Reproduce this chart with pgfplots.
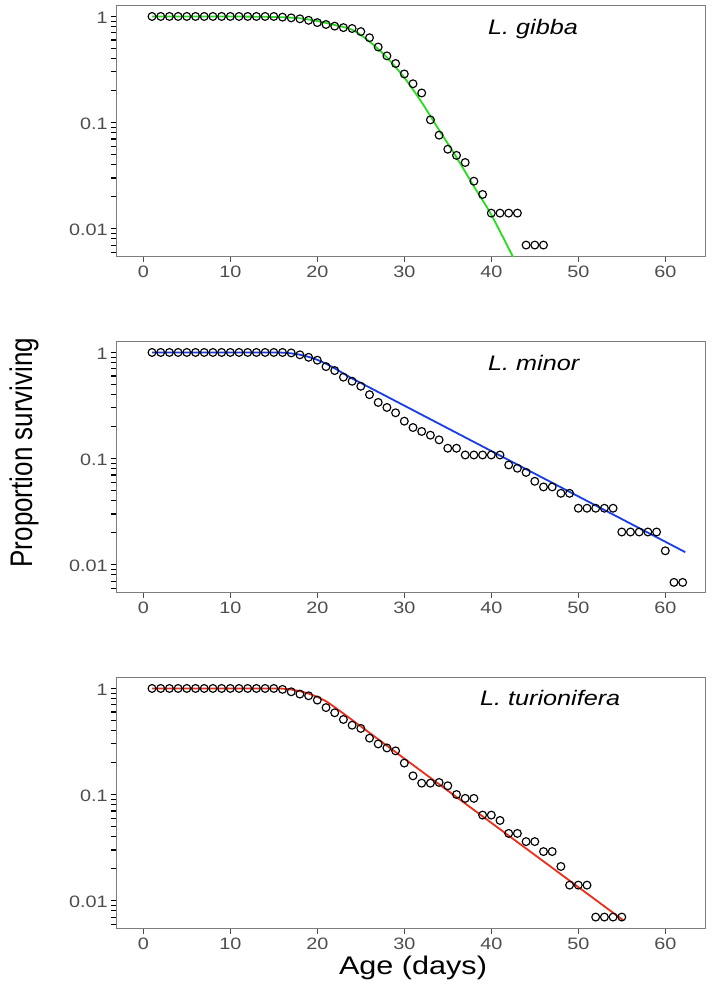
\documentclass[border=0pt]{standalone}
\usepackage{pgfplots}
\pgfplotsset{compat=1.18}
\usepackage{fontspec}
\setmainfont{Liberation Sans}
\usepackage{graphicx}
\definecolor{tickgray}{RGB}{77,77,77}
\definecolor{boxgray}{RGB}{125,125,125}
\definecolor{lgreen}{RGB}{40,220,30}
\definecolor{lblue}{RGB}{25,60,230}
\definecolor{lred}{RGB}{235,45,25}
\newcommand{\sx}[1]{\scalebox{1.2}[1]{#1}}
\pgfplotsset{
  scale only axis, width=588.6pt, height=251.5pt,
  xmin=-3.06, xmax=64.6,
  ymin=0.00546, ymax=1.282,
  axis line style={boxgray, line width=0.9pt},
  xtick={0,10,20,30,40,50,60},
  xticklabels={\sx{0},\sx{10},\sx{20},\sx{30},\sx{40},\sx{50},\sx{60}},
  ytick={0.01,0.1,1},
  yticklabels={\sx{0.01},\sx{0.1},\sx{1}},
  minor ytick={0.006,0.007,0.008,0.009,0.02,0.03,0.04,0.05,0.06,0.07,0.08,0.09,0.2,0.3,0.4,0.5,0.6,0.7,0.8,0.9},
  tick align=outside, tick pos=left,
  major tick length=5.5pt, minor tick length=5.5pt,
  x tick style={tickgray, line width=1pt},
  y tick style={black, line width=1.1pt},
  ticklabel style={font=\fontsize{16.5}{19}\selectfont, text=tickgray},
  yticklabel style={yshift=-1.5pt},
}
\pgfplotstableread{
d s
1 1
2 1
3 1
4 1
5 1
6 1
7 1
8 1
9 1
10 1
11 1
12 1
13 1
14 1
15 1
16 0.985
17 0.97
18 0.95
19 0.92
20 0.875
21 0.84
22 0.81
23 0.785
24 0.77
25 0.72
26 0.63
27 0.515
28 0.425
29 0.36
30 0.287
31 0.232
32 0.19
33 0.106
34 0.076
35 0.056
36 0.049
37 0.042
38 0.028
39 0.021
40 0.014
41 0.014
42 0.014
43 0.014
44 0.007
45 0.007
46 0.007
}\gibbapts
\pgfplotstableread{
d s
1 1
5 1
10 0.999
14 0.992
16 0.982
18 0.96
20 0.905
22 0.83
24 0.75
26 0.58
28 0.41
30 0.265
32 0.155
34 0.085
36 0.047
38 0.025
40 0.0135
42.6 0.0052
}\gibbafit
\pgfplotstableread{
d s
1 1
2 1
3 1
4 1
5 1
6 1
7 1
8 1
9 1
10 1
11 1
12 1
13 1
14 1
15 1
16 1
17 0.99
18 0.95
19 0.90
20 0.845
21 0.735
22 0.675
23 0.585
24 0.535
25 0.48
26 0.40
27 0.338
28 0.303
29 0.27
30 0.225
31 0.196
32 0.18
33 0.166
34 0.15
35 0.125
36 0.125
37 0.108
38 0.108
39 0.108
40 0.108
41 0.108
42 0.087
43 0.081
44 0.074
45 0.061
46 0.054
47 0.054
48 0.047
49 0.047
50 0.034
51 0.034
52 0.034
53 0.034
54 0.034
55 0.0203
56 0.0203
57 0.0203
58 0.0203
59 0.0203
60 0.0135
61 0.0068
62 0.0068
}\minorpts
\pgfplotstableread{
d s
1 1
10 1
15 1
16 0.995
17 0.98
18 0.952
19 0.908
20 0.852
21 0.783
22 0.708
23 0.634
24 0.569
25 0.516
}\minorcurve
\pgfplotstableread{
d s
25 0.516
62.3 0.0131
}\minorline
\pgfplotstableread{
d s
1 1
2 1
3 1
4 1
5 1
6 1
7 1
8 1
9 1
10 1
11 1
12 1
13 1
14 1
15 1
16 0.98
17 0.93
18 0.885
19 0.853
20 0.777
21 0.66
22 0.59
23 0.51
24 0.45
25 0.42
26 0.34
27 0.30
28 0.275
29 0.258
30 0.198
31 0.15
32 0.128
33 0.128
34 0.13
35 0.121
36 0.10
37 0.092
38 0.092
39 0.064
40 0.064
41 0.057
42 0.043
43 0.043
44 0.036
45 0.036
46 0.029
47 0.029
48 0.021
49 0.014
50 0.014
51 0.014
52 0.007
53 0.007
54 0.007
55 0.007
}\turpts
\pgfplotstableread{
d s
1 1
10 1
15 1
16 0.995
17 0.976
18 0.942
19 0.893
20 0.832
21 0.757
22 0.666
23 0.58
24 0.5045
25 0.4387
}\turcurve
\pgfplotstableread{
d s
25 0.4387
55.2 0.0065
}\turline
\begin{document}
\begin{tikzpicture}
\useasboundingbox (0,0) rectangle (713pt,997pt);
% Panel 1: L. gibba
\begin{semilogyaxis}[anchor=south west, at={(116.7pt,740.5pt)}]
\addplot[only marks, mark=o, mark size=3.9pt, mark options={solid, line width=1.15pt, draw=black}] table[x=d,y=s] {\gibbapts};
\addplot[lgreen, line width=1.8pt, smooth, no marks] table[x=d,y=s] {\gibbafit};
\end{semilogyaxis}
% Panel 2: L. minor
\begin{semilogyaxis}[anchor=south west, at={(116.7pt,404.5pt)}]
\addplot[only marks, mark=o, mark size=3.9pt, mark options={solid, line width=1.15pt, draw=black}] table[x=d,y=s] {\minorpts};
\addplot[lblue, line width=1.8pt, smooth, no marks] table[x=d,y=s] {\minorcurve};
\addplot[lblue, line width=1.8pt, no marks] table[x=d,y=s] {\minorline};
\end{semilogyaxis}
% Panel 3: L. turionifera
\begin{semilogyaxis}[anchor=south west, at={(116.7pt,68.5pt)}]
\addplot[only marks, mark=o, mark size=3.9pt, mark options={solid, line width=1.15pt, draw=black}] table[x=d,y=s] {\turpts};
\addplot[lred, line width=1.8pt, smooth, no marks] table[x=d,y=s] {\turcurve};
\addplot[lred, line width=1.8pt, no marks] table[x=d,y=s] {\turline};
\end{semilogyaxis}
\node[anchor=base west, inner sep=0pt, font=\fontsize{21}{24}\selectfont\itshape] at (488pt,962.7pt) {\sx{L. gibba}};
\node[anchor=base west, inner sep=0pt, font=\fontsize{21}{24}\selectfont\itshape] at (488pt,626.3pt) {\sx{L. minor}};
\node[anchor=base west, inner sep=0pt, font=\fontsize{21}{24}\selectfont\itshape] at (480pt,291pt) {\sx{L. turionifera}};
\node[anchor=center, inner sep=0pt, font=\fontsize{25.5}{28}\selectfont] at (413pt,28.7pt) {\sx{Age (days)}};
\node[anchor=center, inner sep=0pt, rotate=90, font=\fontsize{26}{29}\selectfont] at (24pt,544.5pt) {\scalebox{1}[1.2]{Proportion surviving}};
\end{tikzpicture}
\end{document}
